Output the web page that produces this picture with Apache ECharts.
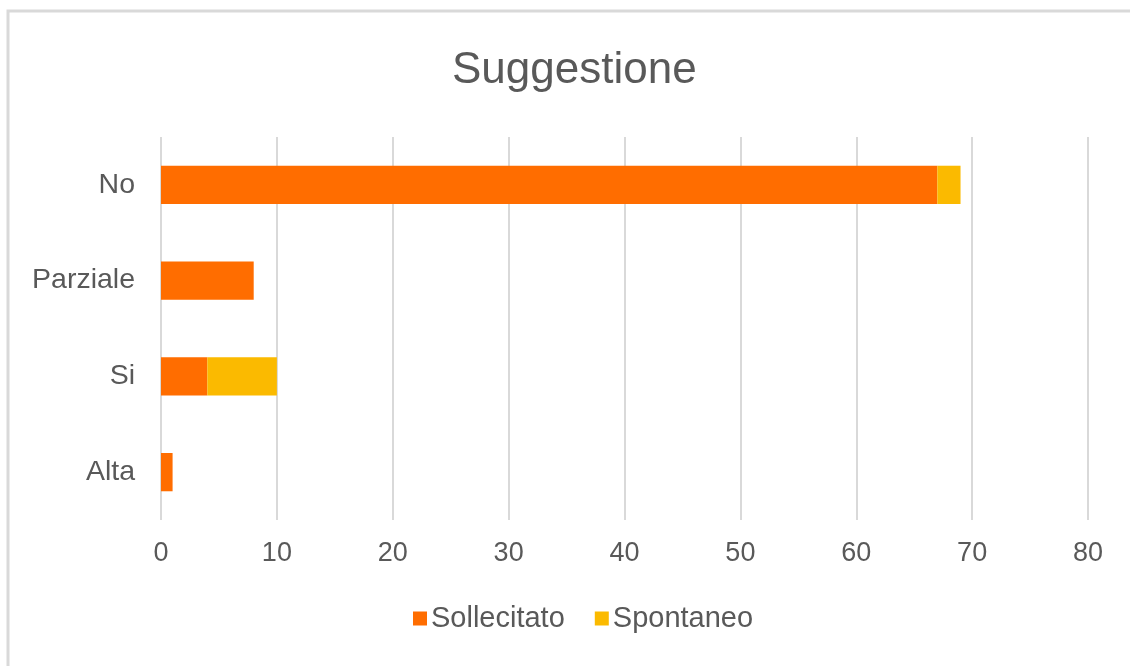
<!DOCTYPE html>
<html>
<head>
<meta charset="utf-8">
<script src="https://cdn.jsdelivr.net/npm/echarts@6/dist/echarts.min.js"></script>
<style>
  html, body { margin: 0; padding: 0; background: #fff; }
  #chart { width: 1130px; height: 666px; }
</style>
</head>
<body>
<div id="chart"></div>
<script>
// Categories listed bottom-to-top (ECharts category axis on y grows upward)
const categories = ['Alta', 'Si', 'Parziale', 'No'];
const sollecitato = [1, 4, 8, 67];
const spontaneo = [0, 6, 0, 2];
const xTicks = [0, 10, 20, 30, 40, 50, 60, 70, 80];

const textColor = '#595959';
const font = '"Liberation Sans", Arial, Helvetica, sans-serif';

const chart = echarts.init(document.getElementById('chart'));
chart.setOption({
  backgroundColor: '#fff',
  animation: false,
  graphic: [{
    type: 'polyline',
    shape: { points: [[8, 666], [8, 11], [1130, 11]] },
    style: { stroke: '#d9d9d9', lineWidth: 3, fill: null },
    silent: true
  }],
  title: {
    text: 'Suggestione',
    left: 447,
    top: 44,
    textStyle: { fontFamily: font, fontSize: 44, fontWeight: 'normal', color: textColor }
  },
  legend: {
    bottom: 28,
    left: 408,
    itemWidth: 14,
    itemHeight: 14,
    itemGap: 30,
    icon: 'rect',
    textStyle: { fontFamily: font, fontSize: 29, color: textColor, padding: [0, 0, 0, -1] },
    data: ['Sollecitato', 'Spontaneo']
  },
  grid: { left: 161, right: 42, top: 137, bottom: 146, containLabel: false },
  xAxis: {
    type: 'value',
    min: xTicks[0],
    max: xTicks[xTicks.length - 1],
    interval: 10,
    axisLine: { show: false },
    axisTick: { show: false },
    axisLabel: { fontFamily: font, fontSize: 27, color: textColor, margin: 20 },
    splitLine: { lineStyle: { color: '#d9d9d9', width: 2 } }
  },
  yAxis: {
    type: 'category',
    data: categories,
    axisLine: { show: false },
    axisTick: { show: false },
    axisLabel: { fontFamily: font, fontSize: 28.5, color: textColor, margin: 26 }
  },
  series: [
    {
      name: 'Sollecitato',
      type: 'bar',
      stack: 'tot',
      barWidth: '40%',
      itemStyle: { color: '#ff6d00' },
      data: sollecitato
    },
    {
      name: 'Spontaneo',
      type: 'bar',
      stack: 'tot',
      barWidth: '40%',
      itemStyle: { color: '#fbba00' },
      data: spontaneo
    }
  ]
});
</script>
</body>
</html>
